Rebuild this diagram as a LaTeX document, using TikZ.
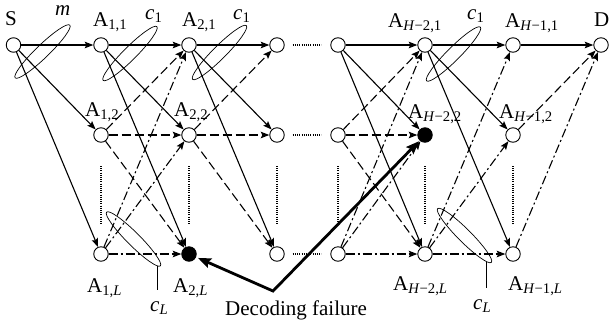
\documentclass[tikz,border=0pt]{standalone}
\usepackage{fontspec}
\setmainfont{Liberation Serif}
\usetikzlibrary{arrows.meta}
\begin{document}
\begin{tikzpicture}[x=1pt,y=-1pt,
  nd/.style={circle,draw,line width=0.9pt,minimum size=14.5pt,inner sep=0pt},
  fl/.style={nd,fill=black},
  lab/.style={anchor=base west,inner sep=0pt,font=\fontsize{21}{25}\selectfont},
  ed/.style={line width=1.1pt,-{Stealth[length=8.5pt,width=6.5pt,inset=1.5pt]}},
  sol/.style={ed},
  dsh/.style={ed,dash pattern=on 9pt off 4pt},
  ddt/.style={ed,dash pattern=on 9pt off 3pt on 2pt off 3pt},
  dotline/.style={line width=1.2pt,dash pattern=on 0.9pt off 1.3pt},
  ring/.style={line width=0.7pt},
  fail/.style={line width=2.8pt,{Stealth[length=13pt,width=10pt,inset=2pt]}-{Stealth[length=13pt,width=10pt,inset=2pt]},shorten <=2pt,shorten >=1pt},
  ]
\useasboundingbox (0,0) rectangle (609,327);
% nodes
\node[nd] (S) at (13.5,45) {};
\node[nd] (a11) at (101,45) {};
\node[nd] (a12) at (101,135) {};
\node[nd] (a1L) at (101,254) {};
\node[nd] (a21) at (189,45) {};
\node[nd] (a22) at (189,135) {};
\node[fl] (a2L) at (189,254) {};
\node[nd] (a31) at (277,45) {};
\node[nd] (a32) at (277,135) {};
\node[nd] (a3L) at (277,254) {};
\node[nd] (b41) at (338,45) {};
\node[nd] (b42) at (338,135) {};
\node[nd] (b4L) at (338,254) {};
\node[nd] (b51) at (425,45) {};
\node[fl] (b52) at (425,135) {};
\node[nd] (b5L) at (425,254) {};
\node[nd] (b61) at (513,45) {};
\node[nd] (b62) at (513,135) {};
\node[nd] (b6L) at (513,254) {};
\node[nd] (D) at (601,45) {};
% edges S -> col1
\foreach \t in {a11,a12,a1L} \draw[sol] (S) -- (\t);
% col1 -> col2
\foreach \t in {a21,a22,a2L} {
  \draw[sol] (a11) -- (\t);
  \draw[dsh] (a12) -- (\t);
  \draw[ddt] (a1L) -- (\t);
}
% col2 -> col3
\foreach \t in {a31,a32,a3L} {
  \draw[sol] (a21) -- (\t);
  \draw[dsh] (a22) -- (\t);
}
% col H-3 -> col H-2
\foreach \t in {b51,b52,b5L} {
  \draw[sol] (b41) -- (\t);
  \draw[dsh] (b42) -- (\t);
  \draw[ddt] (b4L) -- (\t);
}
% col H-2 -> col H-1
\foreach \t in {b61,b62,b6L} {
  \draw[sol] (b51) -- (\t);
  \draw[ddt] (b5L) -- (\t);
}
% col H-1 -> D
\draw[sol] (b61) -- (D);
\draw[dsh] (b62) -- (D);
\draw[ddt] (b6L) -- (D);
% dotted continuation
\foreach \r in {1,2,L} \draw[dotline] ([xshift=8pt]a3\r.east) -- ([xshift=-9pt]b4\r.west);
% vertical dots
\foreach \c in {101,189,277,338,425,513} \draw[dotline] (\c,166) -- (\c,224);
% rings
\draw[ring,rotate around={44:(42.5,51.5)}] (42.5,51.5) ellipse [x radius=38, y radius=6.5];
\draw[ring,rotate around={45:(130,53.5)}] (130,53.5) ellipse [x radius=38, y radius=6.5];
\draw[ring,rotate around={45:(219.5,52.5)}] (219.5,52.5) ellipse [x radius=38, y radius=6.5];
\draw[ring,rotate around={45:(453.5,54)}] (453.5,54) ellipse [x radius=38, y radius=6.5];
\draw[ring,rotate around={-45:(133.5,239)}] (133.5,239) ellipse [x radius=38, y radius=6.5];
\draw[ring,rotate around={-45:(464.5,235.5)}] (464.5,235.5) ellipse [x radius=38, y radius=6.5];
\coordinate (l1a) at (157,265.5);
\coordinate (l1b) at (157,290);
\coordinate (l2a) at (486,262);
\coordinate (l2b) at (486,288);
\draw[ring] (l1a) -- (l1b);
\draw[ring] (l2a) -- (l2b);
% decoding failure
\coordinate (fv) at (273,291);
\draw[fail] (a2L) -- (fv) -- (b52);
% labels
\node[lab] (tS) at (5,25) {S};
\node[lab] (tm) at (55,15) {\textit{m}};
\node[lab] (t11) at (93,26) {A\textsubscript{1,1}};
\node[lab] (tc1a) at (145,19) {\textit{c}\textsubscript{1}};
\node[lab] (t21) at (182,26) {A\textsubscript{2,1}};
\node[lab] (tc1b) at (233,19) {\textit{c}\textsubscript{1}};
\node[lab] (t12) at (85,116) {A\textsubscript{1,2}};
\node[lab] (t22) at (174,116) {A\textsubscript{2,2}};
\node[lab] (t1L) at (87,292) {A\textsubscript{1,\textit{L}}};
\node[lab] (t2L) at (173,292) {A\textsubscript{2,\textit{L}}};
\node[lab] (tcLa) at (150,311) {\textit{c}\textsubscript{\textit{L}}};
\node[lab] (tH21) at (388,27) {A\textsubscript{\textit{H}−2,1}};
\node[lab] (tc1c) at (467,19) {\textit{c}\textsubscript{1}};
\node[lab] (tH11) at (505,27) {A\textsubscript{\textit{H}−1,1}};
\node[lab] (tD) at (594,26) {D};
\node[lab] (tH22) at (408,118) {A\textsubscript{\textit{H}−2,2}};
\node[lab] (tH12) at (499,118) {A\textsubscript{\textit{H}−1,2}};
\node[lab] (tH2L) at (393,290) {A\textsubscript{\textit{H}−2,\textit{L}}};
\node[lab] (tH1L) at (508,290) {A\textsubscript{\textit{H}−1,\textit{L}}};
\node[lab] (tcLb) at (473,309) {\textit{c}\textsubscript{\textit{L}}};
\node[lab] (tdf) at (225,315) {Decoding failure};
\end{tikzpicture}
\end{document}
